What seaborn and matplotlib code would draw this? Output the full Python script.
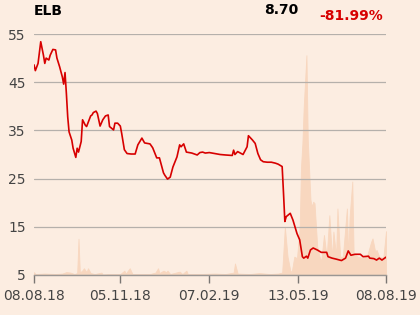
import matplotlib
matplotlib.use("Agg")
import matplotlib.pyplot as plt
import seaborn as sns
import pandas as pd

# ---- data ----
sessions = [0, 1, 3, 5, 7, 8, 9, 11, 12, 14, 16, 17, 19, 21, 22, 23, 24, 25, 26, 28,
            29, 31, 32, 33, 35, 36, 38, 39, 42, 43, 44, 46, 47, 49, 51, 53, 55, 56, 59, 60,
            62, 64, 65, 67, 69, 72, 75, 77, 80, 82, 86, 88, 91, 93, 96, 97, 99, 101, 103, 106,
            108, 109, 111, 113, 117, 121, 123, 125, 127, 130, 138, 142, 147, 148, 149, 151, 155, 158, 159, 162,
            164, 166, 168, 170, 173, 176, 179, 181, 184, 185, 186, 187, 190, 192, 195, 197, 199, 200, 202, 203,
            205, 207, 210, 213, 217, 218, 221, 224, 228, 231, 233, 235, 238, 242, 244, 248, 249, 252, 254, 256,
            258, 261]
price = [48.6, 47.4, 48.9, 53.4, 50.6, 48.9, 50.0, 49.6, 50.6, 51.8, 51.7, 50.0, 48.2, 46.1, 44.6, 47.0, 42.7, 37.8, 34.7, 33.0,
         31.3, 29.4, 31.3, 30.5, 32.7, 37.2, 36.1, 35.8, 38.0, 38.2, 38.7, 39.0, 38.5, 35.9, 37.2, 38.0, 38.2, 35.8, 35.1, 36.5,
         36.5, 35.9, 34.4, 31.0, 30.2, 30.1, 30.1, 32.0, 33.4, 32.4, 32.2, 31.4, 29.3, 29.3, 26.2, 25.7, 24.9, 25.3, 27.4, 29.5,
         32.0, 31.6, 32.2, 30.5, 30.3, 29.9, 30.4, 30.5, 30.3, 30.4, 30.0, 29.9, 29.8, 30.9, 30.0, 30.6, 30.0, 31.6, 33.9, 33.0,
         32.3, 30.2, 28.9, 28.5, 28.4, 28.4, 28.2, 28.0, 27.5, 22.0, 16.1, 17.1, 17.8, 16.4, 13.6, 12.3, 8.8, 8.5, 8.9, 8.5,
         10.2, 10.6, 10.2, 9.7, 9.7, 8.8, 8.5, 8.3, 8.0, 8.5, 10.0, 9.1, 9.3, 9.3, 8.8, 8.9, 8.5, 8.4, 8.1, 8.5,
         8.1, 8.7]

vol_sessions = [0, 1, 8, 16, 21, 24, 27, 30, 32, 33, 34, 36, 37, 39, 40, 42, 45, 50, 51, 56,
                64, 67, 68, 71, 73, 79, 86, 90, 92, 93, 96, 98, 99, 101, 108, 110, 113, 114, 123, 134,
                142, 148, 149, 151, 160, 167, 175, 181, 184, 186, 188, 190, 191, 193, 195, 197, 198, 199, 200, 202,
                203, 205, 206, 207, 208, 210, 212, 213, 215, 217, 219, 221, 222, 224, 225, 227, 229, 232, 233, 234,
                236, 237, 240, 244, 247, 250, 251, 253, 254, 256, 259, 261]
volume = [0.6, 0.2, 0.3, 0.2, 0.3, 0.6, 0.5, 0.2, 0.4, 7.5, 0.5, 1.0, 1.4, 0.6, 1.4, 0.4, 0.2, 0.5, 0.1, 0.2,
          0.2, 0.9, 0.3, 1.4, 0.2, 0.2, 0.2, 0.5, 1.4, 0.4, 0.9, 0.6, 0.9, 0.2, 0.7, 0.2, 0.9, 0.2, 0.2, 0.3,
          0.2, 0.5, 2.4, 0.3, 0.2, 0.4, 0.2, 0.3, 0.5, 10.0, 3.8, 1.0, 0.5, 3.8, 3.5, 10.0, 22.5, 27.3, 35.0, 45.6,
          28.0, 15.6, 14.2, 15.2, 14.9, 5.9, 3.5, 3.0, 8.3, 3.8, 12.4, 3.5, 9.0, 4.0, 13.8, 3.8, 3.8, 13.8, 3.7, 12.0,
          19.4, 4.4, 3.8, 3.5, 4.0, 6.9, 7.6, 4.8, 5.2, 3.8, 3.5, 9.1]

tick_sessions = [0, 64, 130, 196, 261]
tick_labels = ["08.08.18", "05.11.18", "07.02.19", "13.05.19", "08.08.19"]
y_ticks = [5, 15, 25, 35, 45, 55]

title = "ELB"
last_value = "8.70"
change = "-81.99%"

# ---- style ----
BG = "#fcede1"
RED = "#d70000"
VOLC = "#f8d7bf"
GRID = "#b5b0ab"
TXT = "#444444"

sns.set_theme(style="white", rc={"figure.facecolor": BG, "axes.facecolor": BG})
plt.rcParams["font.family"] = ["DejaVu Sans"]

fig = plt.figure(figsize=(4.2, 3.15), dpi=100)
ax = fig.add_axes([34 / 420, 40 / 315, 352 / 420, 241 / 315])
ax2 = ax.twinx()

df_p = pd.DataFrame({"session": sessions, "price": price})
df_v = pd.DataFrame({"session": vol_sessions, "volume": volume})

# volume area (behind)
ax2.fill_between(df_v["session"], 0, df_v["volume"], color=VOLC, linewidth=0.6,
                 edgecolor=VOLC, zorder=1)
ax2.set_ylim(0, 50)
ax2.set_yticks([])
for s in ax2.spines.values():
    s.set_visible(False)
ax2.patch.set_visible(False)

ax.set_zorder(2)
ax.patch.set_visible(False)
ax2.set_zorder(1)

# price line
sns.lineplot(data=df_p, x="session", y="price", ax=ax, color=RED, linewidth=1.2, zorder=3)

ax.set_xlim(0, 261)
ax.set_ylim(5, 55)
ax.set_yticks(y_ticks)
ax.set_yticklabels([str(v) for v in y_ticks])
ax.set_xticks(tick_sessions)
ax.set_xticklabels(tick_labels)
ax.set_xlabel("")
ax.set_ylabel("")

ax.grid(axis="y", color=GRID, linewidth=0.9, zorder=0)
ax.grid(axis="x", visible=False)
for name in ["top", "right", "left"]:
    ax.spines[name].set_visible(False)
ax.spines["bottom"].set_color("#9a9693")
ax.spines["bottom"].set_linewidth(1.0)
ax.spines["bottom"].set_zorder(4)

ax.tick_params(axis="y", length=0, pad=6, labelsize=10, labelcolor=TXT)
ax.tick_params(axis="x", length=6, width=1, color="#7a7673", pad=4,
               labelsize=10, labelcolor=TXT, direction="out")
ax.tick_params(axis="x", which="both", bottom=True)

# header texts
fig.text(34 / 420, 1 - 11 / 315, title, ha="left", va="center",
         fontsize=10, fontweight="bold", color="black")
fig.text(298 / 420, 1 - 10 / 315, last_value, ha="right", va="center",
         fontsize=10, fontweight="bold", color="black")
fig.text(383 / 420, 1 - 16 / 315, change, ha="right", va="center",
         fontsize=10, fontweight="bold", color=RED)

fig.savefig("out.png", dpi=100, facecolor=BG)
